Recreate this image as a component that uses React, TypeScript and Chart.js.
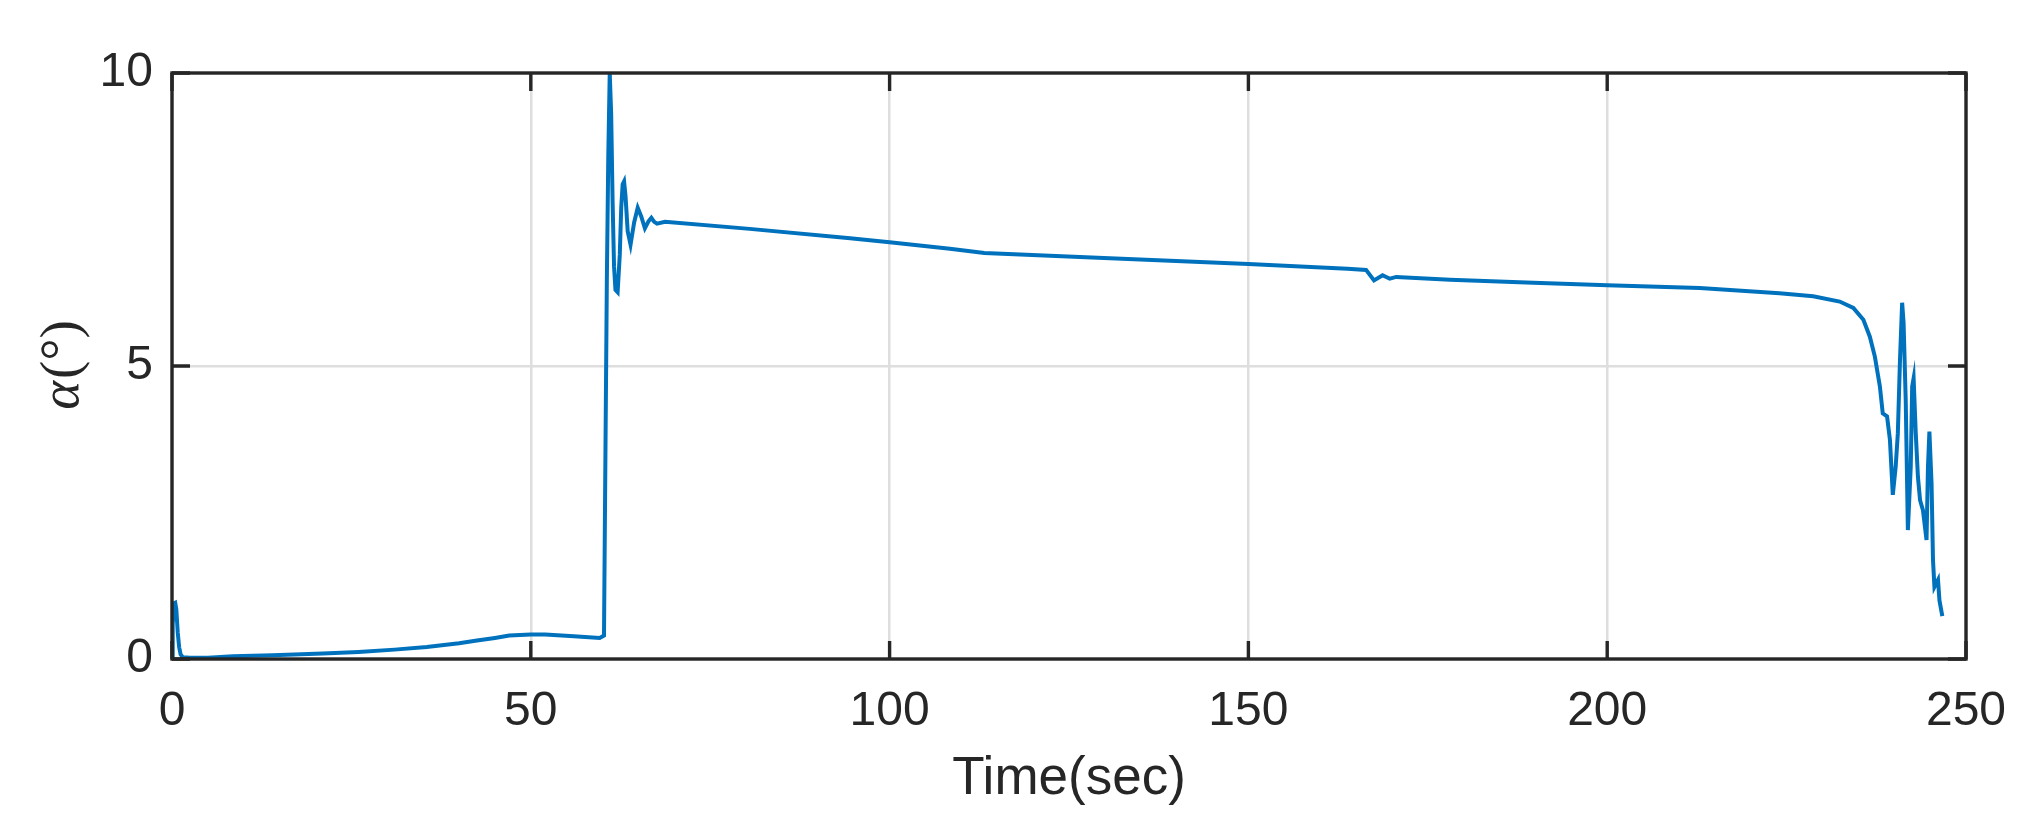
import React, { useEffect, useRef } from "react";
import { Chart, registerables } from "chart.js";

Chart.register(...registerables);

// Time (s) samples
const timeSec: number[] = [
  0, 0.1, 0.3, 0.45, 0.6, 0.8, 1.0, 1.2, 1.5, 2.5, 5, 8.5, 14, 21, 26, 31, 35.5, 40, 42.5, 45, 47, 50, 52, 56, 59.6, 60.2,
  60.4, 60.6, 60.8, 61.0, 61.2, 61.4, 61.6, 61.8, 62.1, 62.4, 62.6, 62.8, 63.0, 63.2, 63.5, 63.9, 64.4, 64.9, 65.4,
  65.9, 66.4, 66.8, 67.2, 67.6, 68.7, 80.5, 94.5, 100, 108.4, 113.2, 126.5, 150, 163.8, 166.4, 167.5, 168.7, 169.7,
  170.6, 178.1, 189.7, 200, 212.9, 224, 228.7, 232.4, 234.3, 235.7, 236.6, 237.3, 238.0, 238.4, 239.0, 239.4, 239.8,
  240.2, 240.5, 240.8, 241.1, 241.3, 241.6, 241.9, 242.3, 242.5, 242.7, 243.0, 243.3, 243.6, 244.0, 244.5, 244.7,
  244.9, 245.2, 245.4, 245.6, 246.1, 246.3, 246.7,
];

// Angle of attack alpha (deg) at each sample
const alphaDeg: number[] = [
  0.03, 0.6, 0.95, 0.96, 0.85, 0.45, 0.2, 0.08, 0.03, 0.02, 0.02, 0.045, 0.063, 0.092, 0.12, 0.16, 0.205, 0.27, 0.315, 0.36,
  0.4, 0.42, 0.42, 0.39, 0.36, 0.4,
  3.5, 6.5, 8.6, 10.0, 9.3, 7.8, 6.7, 6.3, 6.26, 6.9, 7.7, 8.1, 8.15, 7.9, 7.3, 7.07, 7.45, 7.7, 7.55,
  7.35, 7.47, 7.53, 7.46, 7.43, 7.46, 7.34, 7.18, 7.11, 7.0, 6.93, 6.86, 6.74, 6.66, 6.64, 6.46, 6.55, 6.49,
  6.52, 6.47, 6.42, 6.38, 6.33, 6.24, 6.19, 6.1, 5.99, 5.79, 5.5, 5.16, 4.65, 4.19, 4.14, 3.74, 2.8,
  3.28, 3.85, 5.1, 6.08, 5.74, 4.42, 2.2, 3.28, 4.65, 4.79, 3.85, 3.11, 2.71, 2.54, 2.03, 3.28,
  3.88, 3.0, 1.69, 1.23, 1.35, 1.0, 0.73,
];

const xTickValues: number[] = [0, 50, 100, 150, 200, 250];
const yTickValues: number[] = [0, 5, 10];
const xTitle = "Time(sec)";
const yTitleSymbol = "α";
const yTitleUnit = "(°)";

const AXIS_COLOR = "#262626";

const framePlugin = {
  id: "matlabFrame",
  afterDraw(chart: any) {
    const { ctx, chartArea, scales } = chart;
    const { left, right, top, bottom } = chartArea;
    const xs = scales.x;
    const ys = scales.y;
    const tl = 18;
    ctx.save();
    ctx.strokeStyle = AXIS_COLOR;
    ctx.lineWidth = 3.4;
    ctx.beginPath();
    xTickValues.forEach((v) => {
      const px = xs.getPixelForValue(v);
      ctx.moveTo(px, bottom);
      ctx.lineTo(px, bottom - tl);
      ctx.moveTo(px, top);
      ctx.lineTo(px, top + tl);
    });
    yTickValues.forEach((v) => {
      const py = ys.getPixelForValue(v);
      ctx.moveTo(left, py);
      ctx.lineTo(left + tl, py);
      ctx.moveTo(right, py);
      ctx.lineTo(right - tl, py);
    });
    ctx.stroke();
    ctx.strokeRect(left, top, right - left, bottom - top);

    // y-axis title (rotated)
    const cy = (top + bottom) / 2;
    ctx.fillStyle = AXIS_COLOR;
    ctx.font = "italic 55px 'Liberation Serif'";
    const wA = ctx.measureText(yTitleSymbol).width;
    ctx.font = "55px 'Liberation Serif'";
    const wU = ctx.measureText(yTitleUnit).width;
    const total = wA + wU;
    ctx.translate(78, cy);
    ctx.rotate(-Math.PI / 2);
    ctx.textBaseline = "alphabetic";
    ctx.textAlign = "left";
    ctx.font = "italic 55px 'Liberation Serif'";
    ctx.fillText(yTitleSymbol, -total / 2, 0);
    ctx.font = "55px 'Liberation Serif'";
    ctx.fillText(yTitleUnit, -total / 2 + wA + 2, 0);
    ctx.restore();
  },
};

export default function App() {
  const canvasRef = useRef<HTMLCanvasElement | null>(null);

  useEffect(() => {
    if (!canvasRef.current) return;
    const points = timeSec.map((t, i) => ({ x: t, y: alphaDeg[i] }));
    const chart = new Chart(canvasRef.current, {
      type: "line",
      data: {
        datasets: [
          {
            data: points,
            borderColor: "#0072BD",
            borderWidth: 4,
            pointRadius: 0,
            tension: 0,
            fill: false,
          },
        ],
      },
      options: {
        animation: false,
        responsive: false,
        devicePixelRatio: 1,
        parsing: false as any,
        layout: { padding: { left: 0, top: 73, right: 65, bottom: 0 } },
        plugins: { legend: { display: false }, tooltip: { enabled: false } },
        scales: {
          x: {
            type: "linear",
            min: 0,
            max: 250,
            afterFit: (s: any) => {
              s.height = 168;
            },
            afterBuildTicks: (s: any) => {
              s.ticks = xTickValues.map((v) => ({ value: v }));
            },
            grid: { color: "#dedede", lineWidth: 2.5, drawTicks: false },
            border: { display: false },
            ticks: {
              padding: 24,
              color: AXIS_COLOR,
              font: { family: "'Liberation Sans'", size: 48 },
              maxRotation: 0,
            },
            title: {
              display: true,
              text: xTitle,
              color: AXIS_COLOR,
              font: { family: "'Liberation Sans'", size: 53 },
              padding: { top: 0, bottom: 16 },
            },
          },
          y: {
            type: "linear",
            min: 0,
            max: 10,
            afterFit: (s: any) => {
              s.width = 172;
            },
            afterBuildTicks: (s: any) => {
              s.ticks = yTickValues.map((v) => ({ value: v }));
            },
            grid: { color: "#dedede", lineWidth: 2.5, drawTicks: false },
            border: { display: false },
            ticks: {
              padding: 19,
              color: AXIS_COLOR,
              font: { family: "'Liberation Sans'", size: 48 },
            },
          },
        },
      },
      plugins: [framePlugin],
    });
    return () => chart.destroy();
  }, []);

  return (
    <div style={{ position: "absolute", left: 0, top: 0, width: 2031, height: 827, background: "#fff" }}>
      <canvas ref={canvasRef} width={2031} height={827} />
    </div>
  );
}
